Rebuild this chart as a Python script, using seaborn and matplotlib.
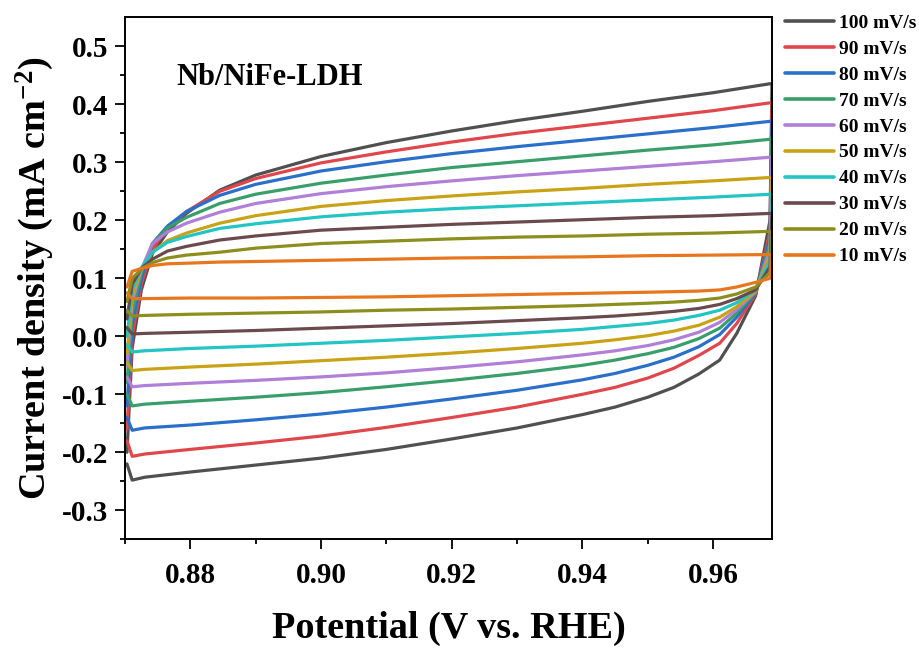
import numpy as np
import pandas as pd
import matplotlib
matplotlib.use("Agg")
import matplotlib.pyplot as plt
import seaborn as sns

# ---------------- data ----------------
rates = ["100 mV/s", "90 mV/s", "80 mV/s", "70 mV/s", "60 mV/s",
         "50 mV/s", "40 mV/s", "30 mV/s", "20 mV/s", "10 mV/s"]
colors = ["#505050", "#E0474C", "#2A6FC9", "#3A9E6A", "#B07FD8",
          "#C9A216", "#22C4C4", "#6B4A4E", "#8C8F1E", "#E8761E"]

# anodic (forward) sweep potentials, V
x_an = [0.8703, 0.8711, 0.8725, 0.8742, 0.8765, 0.8794, 0.8845, 0.8900,
        0.9000, 0.9100, 0.9200, 0.9300, 0.9400, 0.9500, 0.9600, 0.9690]
# cathodic (reverse) sweep potentials, V
x_cat = [0.9687, 0.9665, 0.9636, 0.9610, 0.9578, 0.9540, 0.9500, 0.9450,
         0.9400, 0.9300, 0.9200, 0.9100, 0.9000, 0.8900, 0.8800, 0.8730,
         0.8711, 0.8703]

an_100 = [-0.20, -0.02, 0.080, 0.143, 0.180, 0.212, 0.252, 0.278, 0.310, 0.334, 0.354, 0.372, 0.388, 0.405, 0.420, 0.436]
an_90  = [-0.16,  0.00, 0.090, 0.150, 0.187, 0.215, 0.250, 0.272, 0.299, 0.318, 0.335, 0.350, 0.363, 0.376, 0.389, 0.403]
an_80  = [-0.12,  0.02, 0.100, 0.160, 0.190, 0.215, 0.243, 0.262, 0.285, 0.301, 0.315, 0.327, 0.338, 0.349, 0.360, 0.371]
an_70  = [-0.08,  0.04, 0.110, 0.160, 0.187, 0.205, 0.229, 0.245, 0.264, 0.278, 0.291, 0.301, 0.311, 0.321, 0.330, 0.340]
an_60  = [-0.05,  0.06, 0.115, 0.160, 0.180, 0.195, 0.214, 0.229, 0.246, 0.258, 0.268, 0.277, 0.285, 0.293, 0.301, 0.309]
an_50  = [-0.03,  0.07, 0.115, 0.145, 0.165, 0.178, 0.195, 0.208, 0.224, 0.234, 0.242, 0.249, 0.255, 0.262, 0.268, 0.274]
an_40  = [ 0.00,  0.08, 0.118, 0.145, 0.162, 0.172, 0.186, 0.194, 0.206, 0.214, 0.220, 0.225, 0.230, 0.235, 0.240, 0.245]
an_30  = [ 0.03,  0.09, 0.117, 0.133, 0.147, 0.155, 0.166, 0.173, 0.183, 0.188, 0.193, 0.197, 0.201, 0.205, 0.208, 0.212]
an_20  = [ 0.06,  0.10, 0.116, 0.127, 0.135, 0.140, 0.145, 0.152, 0.160, 0.164, 0.168, 0.171, 0.173, 0.176, 0.178, 0.181]
an_10  = [ 0.085, 0.112, 0.117, 0.122, 0.125, 0.126, 0.128, 0.129, 0.131, 0.133, 0.135, 0.136, 0.137, 0.139, 0.140, 0.141]

cat_100 = [0.20, 0.070, 0.005, -0.041, -0.065, -0.088, -0.105, -0.122, -0.135, -0.158, -0.177, -0.195, -0.210, -0.222, -0.234, -0.243, -0.248, -0.22]
cat_90  = [0.18, 0.073, 0.022, -0.012, -0.033, -0.055, -0.072, -0.088, -0.100, -0.122, -0.140, -0.157, -0.172, -0.184, -0.195, -0.203, -0.207, -0.18]
cat_80  = [0.17, 0.075, 0.033, 0.003, -0.018, -0.036, -0.050, -0.064, -0.075, -0.093, -0.108, -0.122, -0.134, -0.144, -0.153, -0.158, -0.162, -0.14]
cat_70  = [0.16, 0.076, 0.040, 0.014, -0.004, -0.019, -0.030, -0.041, -0.050, -0.064, -0.076, -0.087, -0.097, -0.105, -0.112, -0.117, -0.120, -0.10]
cat_60  = [0.15, 0.077, 0.046, 0.024, 0.007, -0.006, -0.016, -0.025, -0.032, -0.044, -0.054, -0.063, -0.070, -0.076, -0.081, -0.085, -0.087, -0.07]
cat_50  = [0.14, 0.078, 0.051, 0.033, 0.019, 0.009, 0.001, -0.006, -0.012, -0.021, -0.029, -0.036, -0.042, -0.048, -0.053, -0.057, -0.059, -0.045]
cat_40  = [0.13, 0.080, 0.058, 0.045, 0.036, 0.028, 0.022, 0.017, 0.012, 0.005, -0.001, -0.007, -0.012, -0.017, -0.021, -0.025, -0.027, -0.015]
cat_30  = [0.12, 0.080, 0.065, 0.055, 0.048, 0.043, 0.039, 0.035, 0.032, 0.027, 0.022, 0.018, 0.014, 0.010, 0.007, 0.005, 0.004, 0.015]
cat_20  = [0.11, 0.085, 0.073, 0.066, 0.062, 0.059, 0.057, 0.055, 0.053, 0.050, 0.047, 0.045, 0.042, 0.040, 0.038, 0.036, 0.035, 0.045]
cat_10  = [0.10, 0.093, 0.085, 0.080, 0.078, 0.077, 0.076, 0.075, 0.074, 0.072, 0.070, 0.068, 0.067, 0.066, 0.066, 0.065, 0.065, 0.075]

anodic = [an_100, an_90, an_80, an_70, an_60, an_50, an_40, an_30, an_20, an_10]
cathodic = [cat_100, cat_90, cat_80, cat_70, cat_60, cat_50, cat_40, cat_30, cat_20, cat_10]

xticks = [0.88, 0.90, 0.92, 0.94, 0.96]
yticks = [-0.3, -0.2, -0.1, 0.0, 0.1, 0.2, 0.3, 0.4, 0.5]

# ---------------- build long table ----------------
rows = []
for lab, an, cat in zip(rates, anodic, cathodic):
    xs = list(x_an) + list(x_cat)
    ys = list(an) + list(cat)
    for i, (xv, yv) in enumerate(zip(xs, ys)):
        rows.append({"rate": lab, "order": i, "E": xv, "j": yv})
df = pd.DataFrame(rows)

# ---------------- style ----------------
sns.set_theme(style="ticks")
serif = "Liberation Serif"
plt.rcParams["font.family"] = [serif, "DejaVu Serif"]
plt.rcParams["font.weight"] = "bold"
plt.rcParams["text.color"] = "black"
plt.rcParams["axes.labelcolor"] = "black"
plt.rcParams["mathtext.fontset"] = "custom"
plt.rcParams["mathtext.rm"] = "Liberation Serif:bold"
plt.rcParams["mathtext.bf"] = "Liberation Serif:bold"
plt.rcParams["mathtext.it"] = "Liberation Serif:bold"
plt.rcParams["mathtext.default"] = "bf"

fig = plt.figure(figsize=(9.2, 6.48), dpi=100)
ax = fig.add_axes([125 / 920, 1 - 539.3 / 648, (772 - 125) / 920, (539.3 - 17.3) / 648])

sns.lineplot(data=df, x="E", y="j", hue="rate", hue_order=rates,
             palette=dict(zip(rates, colors)), sort=False, estimator=None,
             linewidth=2.3, ax=ax)

ax.set_xlim(0.870, 0.969)
ax.set_ylim(-0.35, 0.55)
ax.set_xticks(xticks)
ax.set_xticklabels([f"{v:.2f}" for v in xticks])
ax.set_yticks(yticks)
ax.set_yticklabels([f"{v:.1f}" for v in yticks])
ax.set_xticks([0.87, 0.89, 0.91, 0.93, 0.95], minor=True)
ax.set_yticks([-0.35, -0.25, -0.15, -0.05, 0.05, 0.15, 0.25, 0.35, 0.45], minor=True)

ax.tick_params(axis="both", which="major", direction="out", length=7, width=1.3,
               labelsize=21, color="black", labelcolor="black")
ax.tick_params(axis="x", which="major", pad=9)
ax.tick_params(axis="y", which="major", pad=5)
ax.tick_params(axis="both", which="minor", direction="out", length=3.5, width=1.3,
               color="black")
for lab in ax.get_xticklabels() + ax.get_yticklabels():
    lab.set_fontweight("bold")
for s in ax.spines.values():
    s.set_visible(True)
    s.set_linewidth(1.4)
    s.set_color("black")

ax.set_xlabel("Potential (V vs. RHE)", fontsize=27.5, fontweight="bold", labelpad=16,
              color="black")
ax.set_ylabel(r"Current density (mA cm$^{-2}$)", fontsize=27.5, fontweight="bold",
              labelpad=4, color="black")

ax.text(0.080, 0.884, "Nb/NiFe-LDH", transform=ax.transAxes, ha="left", va="center",
        fontsize=22, fontweight="bold", color="black")

handles, labels = ax.get_legend_handles_labels()
if ax.get_legend() is not None:
    ax.get_legend().remove()
for h in handles:
    h.set_linewidth(2.6)
fig.legend(handles, labels, loc="upper left", bbox_to_anchor=(785 / 920, 1 - 14 / 648),
           frameon=False, handlelength=2.5, handletextpad=0.3,
           labelspacing=0.43, borderpad=0, borderaxespad=0,
           prop={"family": serif, "weight": "bold", "size": 14})

fig.savefig("out.png", dpi=100)
